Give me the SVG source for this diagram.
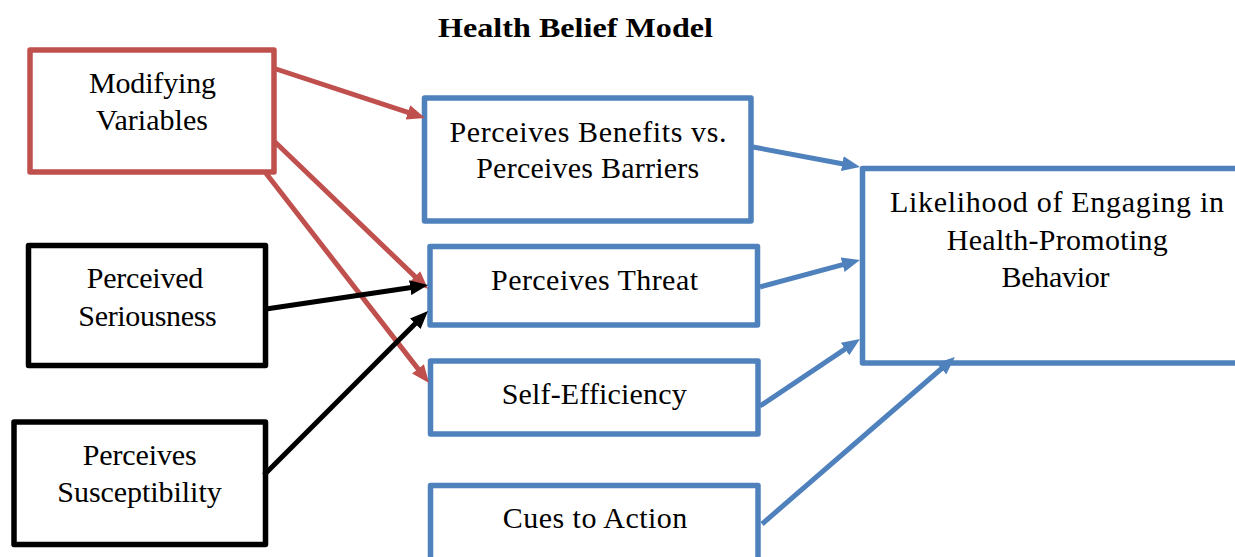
<svg xmlns="http://www.w3.org/2000/svg" width="1235" height="557" viewBox="0 0 1235 557">
<style>
.box{fill:#fff;stroke-width:5.5;stroke-linejoin:round}
.red{stroke:#C0504D}
.blue{stroke:#4F81BD}
.blk{stroke:#000}
text{font-family:"Liberation Serif","Times New Roman",serif;font-size:30px;fill:#000;text-anchor:middle}
.title{font-weight:bold;font-size:27.5px}
.ln{stroke-width:5;fill:none}
</style>
<defs>
<marker id="ar" viewBox="0 0 18 15" refX="8" refY="7.5" markerWidth="18" markerHeight="15" markerUnits="userSpaceOnUse" orient="auto"><path d="M0,0 L18,7.5 L0,15 z" fill="#C0504D"/></marker>
<marker id="ab" viewBox="0 0 18 15" refX="8" refY="7.5" markerWidth="18" markerHeight="15" markerUnits="userSpaceOnUse" orient="auto"><path d="M0,0 L18,7.5 L0,15 z" fill="#4F81BD"/></marker>
<marker id="ak" viewBox="0 0 18 15" refX="8" refY="7.5" markerWidth="18" markerHeight="15" markerUnits="userSpaceOnUse" orient="auto"><path d="M0,0 L18,7.5 L0,15 z" fill="#000"/></marker>
</defs>
<rect width="1235" height="557" fill="#fff"/>
<text class="title" x="575.5" y="37.3" textLength="275" lengthAdjust="spacingAndGlyphs">Health Belief Model</text>

<g id="modifying">
<rect class="box red" x="30" y="50" width="244" height="122"/>
<text x="152.5" y="93" textLength="127">Modifying</text>
<text x="152" y="129.5" textLength="112">Variables</text>
</g>
<g id="benefits">
<rect class="box blue" x="424.5" y="98" width="326.5" height="123"/>
<text x="588" y="141.7" textLength="277">Perceives Benefits vs.</text>
<text x="587.7" y="177.7" textLength="223">Perceives Barriers</text>
</g>
<g id="likelihood">
<rect class="box blue" x="862.5" y="168.5" width="390" height="194.5"/>
<text x="1057" y="211.7" textLength="334">Likelihood of Engaging in</text>
<text x="1057.3" y="249.5" textLength="221">Health-Promoting</text>
<text x="1055.5" y="287.3" textLength="108">Behavior</text>
</g>
<g id="threat">
<rect class="box blue" x="430" y="246.5" width="327.5" height="78.5"/>
<text x="594.5" y="290" textLength="207">Perceives Threat</text>
</g>
<g id="selfefficiency">
<rect class="box blue" x="430.5" y="361" width="327.5" height="73"/>
<text x="594.2" y="404" textLength="185">Self-Efficiency</text>
</g>
<g id="cues">
<rect class="box blue" x="430.5" y="485.5" width="327.5" height="90"/>
<text x="595" y="528.3" textLength="184.6">Cues to Action</text>
</g>
<g id="seriousness">
<rect class="box blk" x="28.5" y="245.5" width="237" height="120"/>
<text x="145" y="288.3" textLength="116.6">Perceived</text>
<text x="147.5" y="326" textLength="138.4">Seriousness</text>
</g>
<g id="susceptibility">
<rect class="box blk" x="14" y="422" width="251.5" height="122.5"/>
<text x="139.7" y="465" textLength="114">Perceives</text>
<text x="139.5" y="501.5" textLength="164.4">Susceptibility</text>
</g>

<g id="connectors">
<line class="ln red" x1="276" y1="69" x2="415.5" y2="114.9" marker-end="url(#ar)"/>
<line class="ln red" x1="275" y1="142" x2="420.8" y2="282.1" marker-end="url(#ar)"/>
<line class="ln red" x1="265" y1="172" x2="422.9" y2="375.1" marker-end="url(#ar)"/>
<line class="ln blk" x1="266" y1="309" x2="418.1" y2="286.5" marker-end="url(#ak)"/>
<line class="ln blk" x1="264" y1="475" x2="420.9" y2="318.1" marker-end="url(#ak)"/>
<line class="ln blue" x1="753" y1="147" x2="850.2" y2="165.2" marker-end="url(#ab)"/>
<line class="ln blue" x1="760" y1="287" x2="850.3" y2="262.6" marker-end="url(#ab)"/>
<line class="ln blue" x1="760" y1="406" x2="851.7" y2="344.6" marker-end="url(#ab)"/>
<line class="ln blue" x1="762" y1="524" x2="947.4" y2="363.5" marker-end="url(#ab)"/>
</g>
</svg>
